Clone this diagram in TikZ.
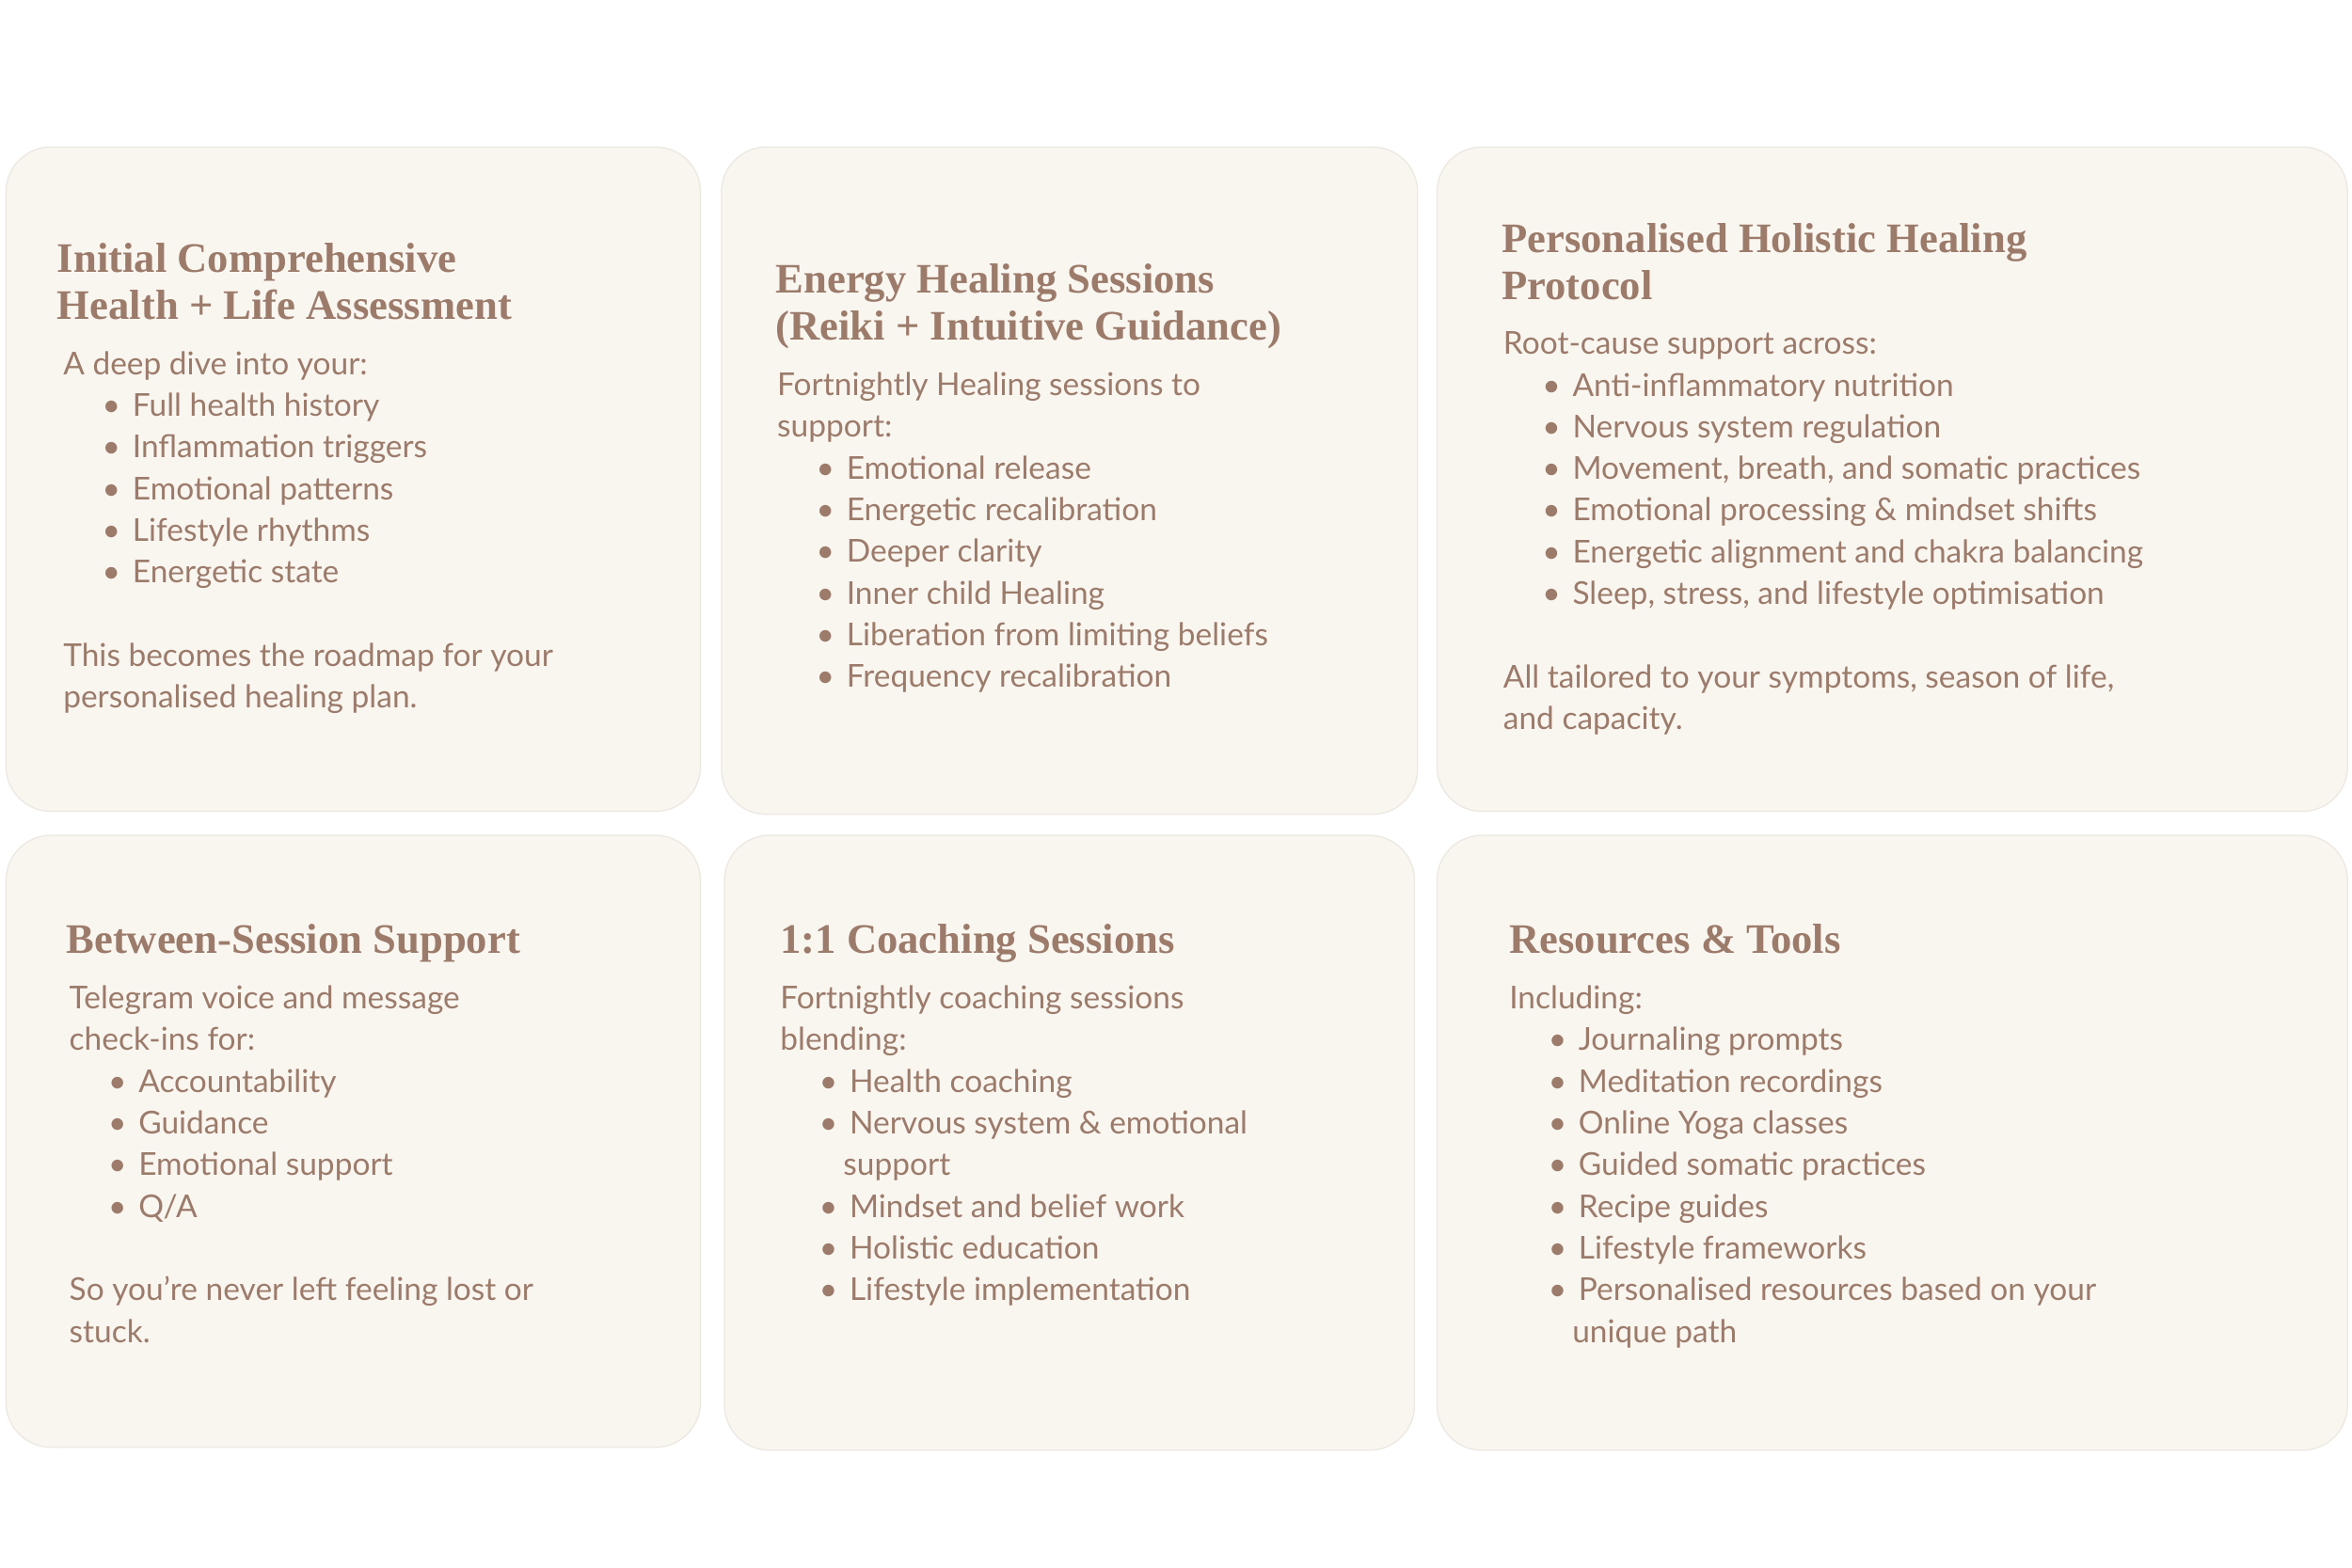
\documentclass[tikz,border=0pt]{standalone}
\usepackage{fontspec}
\setmainfont{Lato}
\newfontfamily\ttlfont{Liberation Serif}
\definecolor{txt}{HTML}{9C7B6B}
\definecolor{card}{HTML}{F9F6F0}
\definecolor{edge}{HTML}{ECE8E1}
\newcommand{\bl}[1]{\hspace*{26pt}\textbullet\hspace{8pt}#1}
\newcommand{\cont}[1]{\hspace*{42pt}#1}
\tikzset{
  card/.style={fill=card,draw=edge,line width=0.8pt,rounded corners=30pt},
  ttl/.style={anchor=north west,inner sep=0pt,align=left,text=txt,font=\ttlfont\bfseries\fontsize{28}{31}\selectfont},
  bod/.style={anchor=north west,inner sep=0pt,align=left,text=txt,font=\fontsize{21}{27.8}\selectfont}
}
\begin{document}
\begin{tikzpicture}[x=1pt,y=-1pt]
\useasboundingbox[fill=white] (0,0) rectangle (1568,1045);
\path[card] (4,98) rectangle (467,541);
\path[card] (481,98) rectangle (945,543);
\path[card] (958,98) rectangle (1565,541);
\path[card] (4,557) rectangle (467,965);
\path[card] (483,557) rectangle (943,967);
\path[card] (958,557) rectangle (1565,967);

\node[ttl] (t1) at (38,162) {Initial Comprehensive\\Health + Life Assessment};
\node[bod] (b1) at (42,234) {A deep dive into your:\\\bl{Full health history}\\\bl{Inflammation triggers}\\\bl{Emotional patterns}\\\bl{Lifestyle rhythms}\\\bl{Energetic state}\\[27.8pt]This becomes the roadmap for your\\personalised healing plan.};

\node[ttl] (t2) at (517,176) {Energy Healing Sessions\\(Reiki + Intuitive Guidance)};
\node[bod] (b2) at (518,248) {Fortnightly Healing sessions to\\support:\\\bl{Emotional release}\\\bl{Energetic recalibration}\\\bl{Deeper clarity}\\\bl{Inner child Healing}\\\bl{Liberation from limiting beliefs}\\\bl{Frequency recalibration}};

\node[ttl] (t3) at (1001,149) {Personalised Holistic Healing\\Protocol};
\node[bod] (b3) at (1002,221) {Root-cause support across:\\\bl{Anti-inflammatory nutrition}\\\bl{Nervous system regulation}\\\bl{Movement, breath, and somatic practices}\\\bl{Emotional processing \& mindset shifts}\\\bl{Energetic alignment and chakra balancing}\\\bl{Sleep, stress, and lifestyle optimisation}\\[27.8pt]All tailored to your symptoms, season of life,\\and capacity.};

\node[ttl] (t4) at (44,616) {Between-Session Support};
\node[bod] (b4) at (46,657) {Telegram voice and message\\check-ins for:\\\bl{Accountability}\\\bl{Guidance}\\\bl{Emotional support}\\\bl{Q/A}\\[27.8pt]So you’re never left feeling lost or\\stuck.};

\node[ttl] (t5) at (520,616) {1:1 Coaching Sessions};
\node[bod] (b5) at (520,657) {Fortnightly coaching sessions\\blending:\\\bl{Health coaching}\\\bl{Nervous system \& emotional}\\\cont{support}\\\bl{Mindset and belief work}\\\bl{Holistic education}\\\bl{Lifestyle implementation}};

\node[ttl] (t6) at (1006,616) {Resources \& Tools};
\node[bod] (b6) at (1006,657) {Including:\\\bl{Journaling prompts}\\\bl{Meditation recordings}\\\bl{Online Yoga classes}\\\bl{Guided somatic practices}\\\bl{Recipe guides}\\\bl{Lifestyle frameworks}\\\bl{Personalised resources based on your}\\\cont{unique path}};
\end{tikzpicture}
\end{document}
